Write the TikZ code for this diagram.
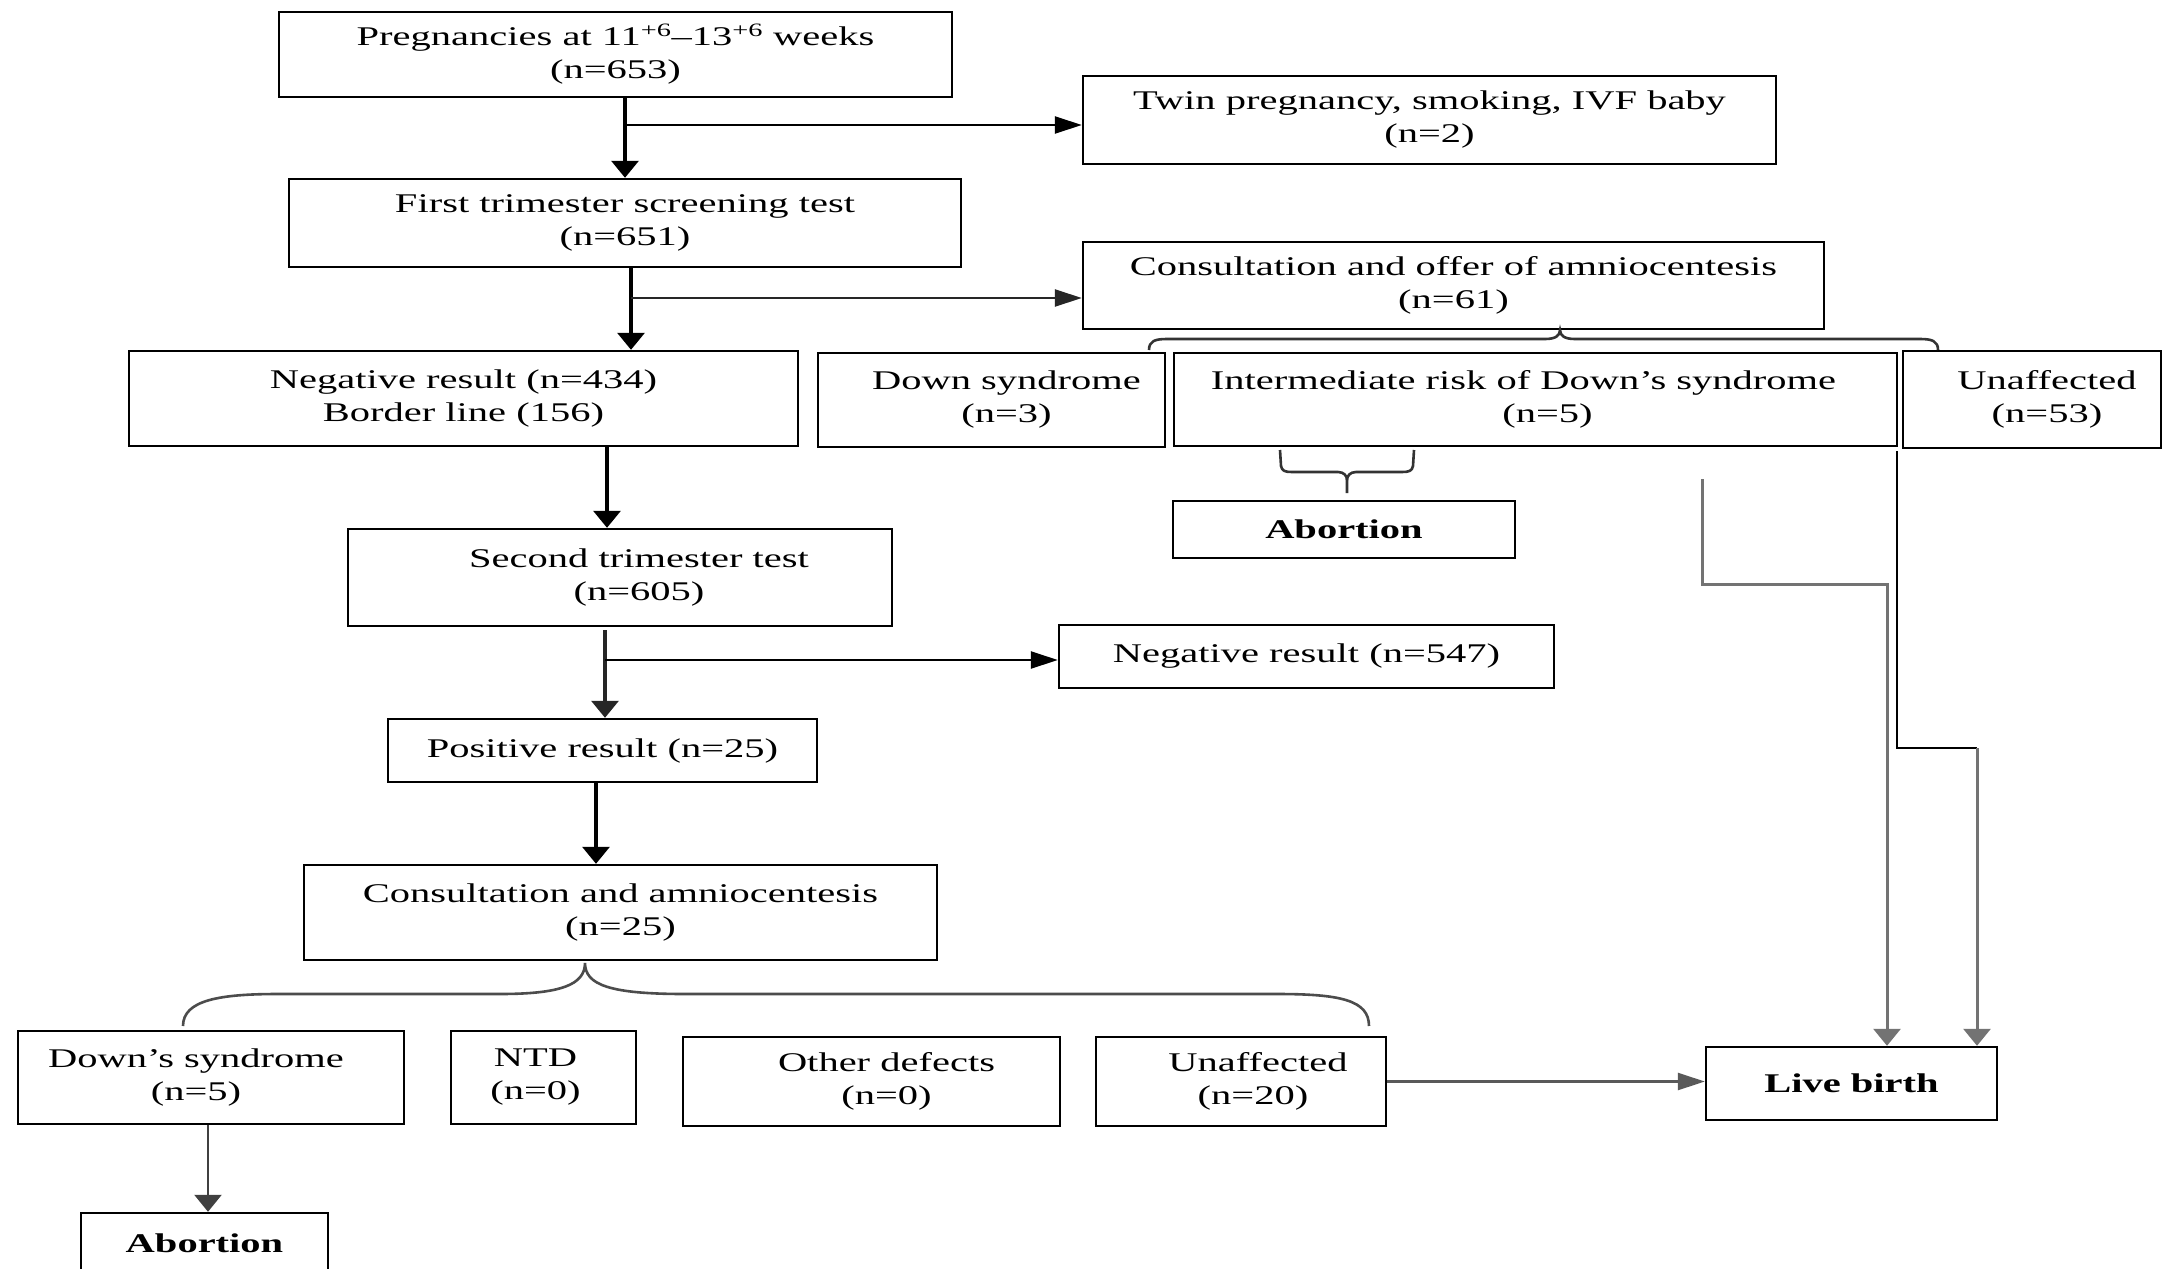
\documentclass[tikz,border=0pt]{standalone}
\usepackage{fontspec}
\setmainfont{Liberation Serif}[FakeStretch=1.5]
\usetikzlibrary{arrows.meta,calc}
\begin{document}
\begin{tikzpicture}[x=1pt,y=-1pt,
  box/.style={draw, line width=2.4pt, inner sep=0pt, align=center,
    font={\fontsize{27pt}{33pt}\selectfont}},
  boldbox/.style={box, font={\fontsize{27pt}{33pt}\selectfont\bfseries}},
  vline/.style={line width=3.2pt},
  hline/.style={line width=2.4pt},
  glinev/.style={line width=3pt, black!55},
  varr/.style={-{Triangle[width=27pt,length=17pt]}},
  harr/.style={-{Triangle[width=17pt,length=27pt]}},
  brace/.style={line width=2.6pt, black!80}
]
\clip (0,0) rectangle (2164,1269);
\fill[white] (0,0) rectangle (2164,1269);

% boxes
\node[box, minimum width=673pt, minimum height=85pt] (b1) at (615.5,54.5)
  {Pregnancies at 11\textsuperscript{+6}–13\textsuperscript{+6} weeks\\(n=653)};
\node[box, minimum width=693pt, minimum height=88pt] (b2) at (1429.5,120)
  {Twin pregnancy, smoking, IVF baby\\(n=2)};
\node[box, minimum width=672pt, minimum height=88pt] (b3) at (625,223)
  {First trimester screening test\\(n=651)};
\node[box, minimum width=741pt, minimum height=87pt] (b4) at (1453.5,285.5)
  {Consultation and offer of amniocentesis\\(n=61)};
\node[box, minimum width=669pt, minimum height=95pt] (b5) at (463.5,398.5)
  {Negative result (n=434)\\Border line (156)};
\node[box, minimum width=347pt, minimum height=94pt] (b6) at (991.5,400)
  {\hspace*{30pt}Down syndrome\\\hspace*{30pt}(n=3)};
\node[box, minimum width=723pt, minimum height=93pt] (b7) at (1535.5,399.5)
  {Intermediate risk of Down’s syndrome\hspace*{24pt}\\\hspace*{24pt}(n=5)};
\node[box, minimum width=258pt, minimum height=97pt] (b8) at (2032,399.5)
  {\hspace*{30pt}Unaffected\\\hspace*{30pt}(n=53)};
\node[boldbox, minimum width=342pt, minimum height=57pt] (b9) at (1344,529.5)
  {Abortion};
\node[box, minimum width=544pt, minimum height=97pt] (b10) at (620,577.5)
  {\hspace*{38pt}Second trimester test\\\hspace*{38pt}(n=605)};
\node[box, minimum width=495pt, minimum height=63pt] (b11) at (1306.5,656.5)
  {Negative result (n=547)};
\node[box, minimum width=429pt, minimum height=63pt] (b12) at (602.5,750.5)
  {Positive result (n=25)};
\node[box, minimum width=633pt, minimum height=95pt] (b13) at (620.5,912.5)
  {Consultation and amniocentesis\\(n=25)};
\node[box, minimum width=386pt, minimum height=93pt] (b14) at (211,1077.5)
  {Down’s syndrome\hspace*{30pt}\\(n=5)\hspace*{30pt}};
\node[box, minimum width=185pt, minimum height=93pt] (b15) at (543.5,1077.5)
  {NTD\hspace*{16pt}\\(n=0)\hspace*{16pt}};
\node[box, minimum width=377pt, minimum height=89pt] (b16) at (871.5,1081.5)
  {\hspace*{30pt}Other defects\\\hspace*{30pt}(n=0)};
\node[box, minimum width=290pt, minimum height=89pt] (b17) at (1241,1081.5)
  {\hspace*{34pt}Unaffected\\\hspace*{24pt}(n=20)};
\node[boldbox, minimum width=291pt, minimum height=73pt] (b18) at (1851.5,1083.5)
  {Live birth};
\node[boldbox, minimum width=247pt, minimum height=60pt] (b19) at (204.5,1243)
  {Abortion};

% main flow
\coordinate (j1) at (625,125);
\draw[vline, varr] (j1 |- b1.south) -- (j1 |- b3.north);
\draw[hline, harr] (j1) -- (j1 -| b2.west);

\coordinate (j2) at (631,298);
\draw[vline, varr] (j2 |- b3.south) -- (j2 |- b5.north);
\draw[hline, harr, black!85] (j2) -- (j2 -| b4.west);

\coordinate (j5) at (607,0);
\draw[vline, varr] (j5 |- b5.south) -- (j5 |- b10.north);

\coordinate (j3) at (605,660);
\draw[vline, varr, black!85] ($(j3 |- b10.south)+(0,3)$) -- (j3 |- b12.north);
\draw[hline, harr] (j3) -- (j3 -| b11.west);

\coordinate (j4) at (596,0);
\draw[vline, varr] (j4 |- b12.south) -- (j4 |- b13.north);

\coordinate (j6) at (208,0);
\draw[hline, varr, black!75] (j6 |- b14.south) -- (j6 |- b19.north);

% upper brace under consultation offer
\coordinate (t1) at (1560,330);
\draw[brace] (1149,350) .. controls (1149,341) and (1155,339) .. (1167,339)
  -- (1545,339) .. controls (1555,339) and (1560,336) .. (t1)
  .. controls (1560,336) and (1565,339) .. (1575,339)
  -- (1920,339) .. controls (1932,339) and (1938,341) .. (1938,350);

% bracket under intermediate risk
\coordinate (t2) at (1347,493);
\draw[brace] (1280,450) -- (1281,466) .. controls (1282,471) and (1285,472) .. (1292,472)
  -- (1338,472) .. controls (1344,472) and (1347,476) .. (1347,480) -- (t2);
\draw[brace] (1414,450) -- (1413,466) .. controls (1412,471) and (1409,472) .. (1402,472)
  -- (1356,472) .. controls (1350,472) and (1347,476) .. (1347,480);

% lower brace under consultation and amniocentesis
\coordinate (t3) at (585,963);
\draw[brace, black!70] (183,1026) .. controls (183,1000) and (220,994) .. (278,994)
  -- (500,994) .. controls (560,994) and (585,985) .. (t3)
  .. controls (585,985) and (610,994) .. (685,994)
  -- (1277,994) .. controls (1340,994) and (1369,1000) .. (1369,1026);

% to live birth
\draw[hline, harr, black!65] (b17.east) -- (b17.east -| b18.west);

\coordinate (g1) at (1702,479);
\coordinate (g1c) at (1887,584);
\draw[glinev, varr] (g1) |- (g1c) -- (g1c |- b18.north);

\coordinate (g2) at (1897,451);
\coordinate (g2c) at (1977,748);
\draw[line width=2.6pt] (g2) |- (g2c);
\draw[glinev, varr] (g2c) -- (g2c |- b18.north);
\end{tikzpicture}
\end{document}
